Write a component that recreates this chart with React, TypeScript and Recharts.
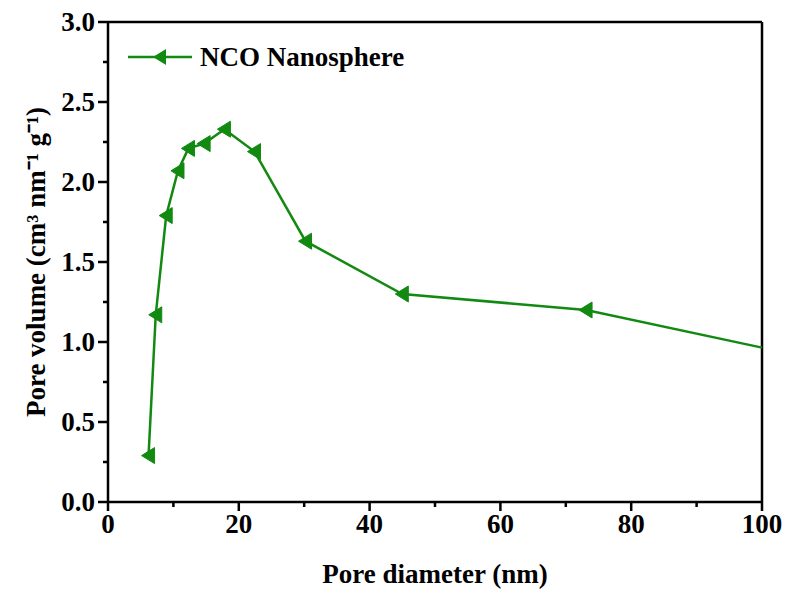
import React from "react";
import {
  LineChart,
  Line,
  XAxis,
  YAxis,
  ReferenceLine,
} from "recharts";

// pore size distribution
const diameters: number[] = [6.2, 7.3, 8.9, 10.7, 12.3, 14.7, 17.8, 22.4, 30.2, 45.0, 73.1, 100];
const volumes: number[] = [0.29, 1.17, 1.79, 2.07, 2.21, 2.24, 2.33, 2.19, 1.63, 1.3, 1.2, 0.965];

const xTicks: number[] = [0, 10, 20, 30, 40, 50, 60, 70, 80, 90, 100];
const xLabelled: number[] = [0, 20, 40, 60, 80, 100];
const yTicks: number[] = [0, 0.25, 0.5, 0.75, 1, 1.25, 1.5, 1.75, 2, 2.25, 2.5, 2.75, 3];
const yLabelled: number[] = [0, 0.5, 1, 1.5, 2, 2.5, 3];

const seriesName = "NCO Nanosphere";

const data = diameters.map((d, i) => ({ d, v: volumes[i] }));

const GREEN = "#128a12";
const FONT = "'Liberation Serif', 'Times New Roman', serif";

const XTick = (props: any) => {
  const { x, y, payload } = props;
  const major = xLabelled.includes(payload.value);
  return (
    <g>
      <line x1={x} x2={x} y1={y} y2={y + (major ? 9 : 5)} stroke="#000" strokeWidth={2.5} />
      {major && (
        <text x={x} y={y + 31} textAnchor="middle" fontFamily={FONT} fontWeight="bold" fontSize={27} fill="#000">
          {payload.value}
        </text>
      )}
    </g>
  );
};

const YTick = (props: any) => {
  const { x, y, payload } = props;
  const major = yLabelled.includes(payload.value);
  return (
    <g>
      <line x1={x} x2={x - (major ? 10 : 5)} y1={y} y2={y} stroke="#000" strokeWidth={2.5} />
      {major && (
        <text x={x - 13} y={y} dy="0.35em" textAnchor="end" fontFamily={FONT} fontWeight="bold" fontSize={27} fill="#000">
          {payload.value.toFixed(1)}
        </text>
      )}
    </g>
  );
};

const Marker = (props: any) => {
  const { cx, cy, index } = props;
  if (index === data.length - 1) return <g key={index} />;
  return (
    <polygon
      key={index}
      points={`${cx - 7},${cy} ${cx + 6},${cy - 8} ${cx + 6},${cy + 8}`}
      fill={GREEN}
      stroke={GREEN}
    />
  );
};

const LegendBox = () => (
  <div
    style={{
      position: "absolute",
      left: 128,
      top: 42,
      display: "flex",
      alignItems: "center",
      fontFamily: FONT,
      fontWeight: "bold",
      fontSize: 27,
      lineHeight: "30px",
      color: "#000",
      pointerEvents: "none",
    }}
  >
    <svg width={66} height={20}>
      <line x1={0} x2={64} y1={10} y2={10} stroke={GREEN} strokeWidth={2.5} />
      <polygon points="25,10 38,2 38,18" fill={GREEN} />
    </svg>
    <span style={{ marginLeft: 6 }}>{seriesName}</span>
  </div>
);

const App = () => {
  return (
    <div style={{ position: "absolute", left: 0, top: 0, width: 787, height: 594, background: "#fff" }}>
      <LineChart
        width={787}
        height={594}
        data={data}
        margin={{ top: 22, right: 25, left: 48, bottom: 32 }}
      >
        <XAxis
          dataKey="d"
          type="number"
          domain={[0, 100]}
          ticks={xTicks}
          interval={0}
          height={60}
          stroke="#000"
          strokeWidth={2.5}
          tickLine={false}
          tickSize={0}
          tickMargin={0}
          tick={<XTick />}
          label={{
            content: (p: any) => {
              const vb = p.viewBox;
              return (
                <text x={vb.x + vb.width / 2} y={583} textAnchor="middle" fontFamily={FONT} fontWeight="bold" fontSize={27} fill="#000">
                  Pore diameter (nm)
                </text>
              );
            },
          }}
        />
        <YAxis
          dataKey="v"
          type="number"
          domain={[0, 3]}
          ticks={yTicks}
          interval={0}
          width={60}
          stroke="#000"
          strokeWidth={2.5}
          tickLine={false}
          tickSize={0}
          tickMargin={0}
          tick={<YTick />}
          label={{
            content: (p: any) => {
              const vb = p.viewBox;
              const cy = vb.y + vb.height / 2;
              return (
                <text
                  x={36}
                  y={cy}
                  transform={`rotate(-90, 36, ${cy})`}
                  textAnchor="middle"
                  dy="0.35em"
                  fontFamily={FONT}
                  fontWeight="bold"
                  fontSize={27}
                  fill="#000"
                >
                  Pore volume (cm³ nm⁻¹ g⁻¹)
                </text>
              );
            },
          }}
        />
        <ReferenceLine y={3} stroke="#000" strokeWidth={2.5} />
        <ReferenceLine x={100} stroke="#000" strokeWidth={2.5} />
        <Line
          type="linear"
          dataKey="v"
          name={seriesName}
          stroke={GREEN}
          strokeWidth={2.5}
          dot={<Marker />}
          activeDot={false}
          isAnimationActive={false}
        />
      </LineChart>
      <LegendBox />
    </div>
  );
};

export default App;
